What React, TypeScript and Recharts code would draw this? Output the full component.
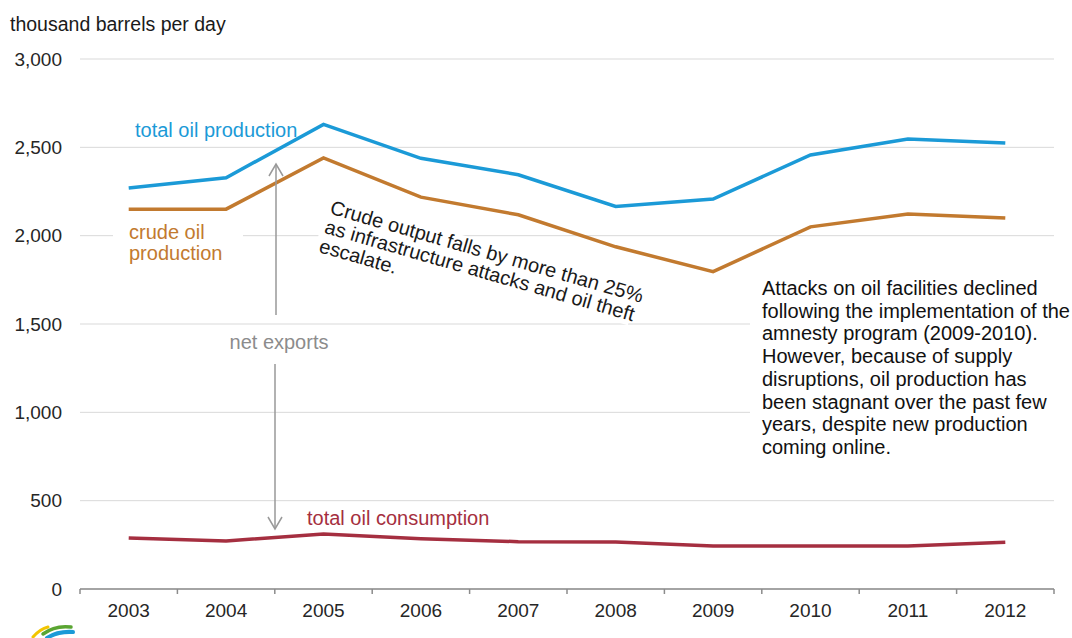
import React from 'react';
import { LineChart, Line, XAxis, YAxis, CartesianGrid } from 'recharts';

const years = [2003, 2004, 2005, 2006, 2007, 2008, 2009, 2010, 2011, 2012];
const totalProduction = [2270, 2328, 2630, 2438, 2345, 2165, 2207, 2457, 2547, 2524];
const crudeProduction = [2150, 2150, 2440, 2218, 2118, 1937, 1796, 2050, 2123, 2100];
const totalConsumption = [289, 272, 311, 284, 268, 266, 243, 243, 243, 264];
const yTicks = [0, 500, 1000, 1500, 2000, 2500, 3000];

const rightNote = [
  'Attacks on oil facilities declined',
  'following the implementation of the',
  'amnesty program (2009-2010).',
  'However, because of supply',
  'disruptions, oil production has',
  'been stagnant over the past few',
  'years, despite new production',
  'coming online.',
];
const crudeNote = ['Crude output falls by more than 25%', 'as infrastructure attacks and oil theft', 'escalate.'];
const crudeNoteWidths = [330, 322, 84];

const data = years.map((year, i) => ({
  year,
  total: totalProduction[i],
  crude: crudeProduction[i],
  consumption: totalConsumption[i],
}));

// tick marks sit between the years, labels on the years
const xTicks = [...years.flatMap((y) => [y - 0.5, y]), years[years.length - 1] + 0.5];

const FONT = '"Liberation Sans", Arial, sans-serif';
const BLUE = '#1b9ad7';
const ORANGE = '#c27a2f';
const RED = '#a52f40';

const YearTick = (props: any) => {
  const { x, y, payload } = props;
  const v = payload.value;
  if (Number.isInteger(v)) {
    return (
      <text x={x} y={y + 28} textAnchor="middle" fill="#262626" fontSize={19} fontFamily={FONT}>
        {v}
      </text>
    );
  }
  return <line x1={x} x2={x} y1={y} y2={y + 5} stroke="#8c8c8c" strokeWidth={1.5} />;
};

export default function App() {
  return (
    <div style={{ position: 'absolute', left: 0, top: 0, width: 1072, height: 638, background: '#fff', fontFamily: FONT, overflow: 'hidden' }}>
      <LineChart width={1072} height={638} data={data} margin={{ top: 59, right: 18, bottom: 0, left: 10 }}>
        <CartesianGrid vertical={false} stroke="#d9d9d9" strokeWidth={1} />
        <XAxis
          dataKey="year"
          type="number"
          domain={[2002.5, 2012.5]}
          ticks={xTicks}
          interval={0}
          height={49}
          tickSize={0}
          tickMargin={0}
          tickLine={false}
          stroke="#8c8c8c"
          strokeWidth={1.5}
          tick={<YearTick />}
        />
        <YAxis
          width={70}
          domain={[0, 3000]}
          ticks={yTicks}
          axisLine={false}
          tickLine={false}
          tickSize={0}
          tickMargin={18}
          tick={{ fill: '#262626', fontSize: 19, fontFamily: FONT }}
          tickFormatter={(v) => v.toLocaleString('en-US')}
        />
        <Line type="linear" dataKey="total" stroke={BLUE} strokeWidth={3.5} dot={false} isAnimationActive={false} />
        <Line type="linear" dataKey="crude" stroke={ORANGE} strokeWidth={3.5} dot={false} isAnimationActive={false} />
        <Line type="linear" dataKey="consumption" stroke={RED} strokeWidth={3.5} dot={false} isAnimationActive={false} />
      </LineChart>

      <svg width={1072} height={638} style={{ position: 'absolute', left: 0, top: 0, pointerEvents: 'none' }} fontFamily={FONT}>
        <text x={10} y={31} fontSize={19.5} fill="#1a1a1a">thousand barrels per day</text>

        <text x={135} y={137} fontSize={20} fill={BLUE}>total oil production</text>

        <rect x={113} y={222} width={130} height={44} fill="#fff" />
        <text x={129} y={239} fontSize={20} fill={ORANGE}>crude oil</text>
        <text x={129} y={260} fontSize={20} fill={ORANGE}>production</text>

        {/* net exports arrow */}
        <g stroke="#999" strokeWidth={1.5} fill="none">
          <line x1={276} y1={164} x2={276} y2={315} />
          <polyline points="269,176 276,164 283,176" />
          <line x1={275} y1={364} x2={275} y2={529} />
          <polyline points="268,517 275,529 282,517" />
        </g>
        <text x={279} y={349} fontSize={20} textAnchor="middle" fill="#8c8c8c">net exports</text>

        <text x={307} y={525} fontSize={20} fill={RED}>total oil consumption</text>

        <g transform="translate(329,213.5) rotate(16)">
          {crudeNote.map((t, i) => (
            <rect key={'bg' + t} x={-4} y={i * 20 - 16} width={crudeNoteWidths[i]} height={21} fill="#fff" />
          ))}
          {crudeNote.map((t, i) => (
            <text key={t} x={0} y={i * 20} fontSize={20} fill="#1a1a1a">{t}</text>
          ))}
        </g>

        <rect x={750} y={268} width={322} height={188} fill="#fff" />
        {rightNote.map((t, i) => (
          <text key={t} x={762} y={295 + i * 22.7} fontSize={20} fill="#111">{t}</text>
        ))}

        {/* logo peeking in at the bottom */}
        <g fill="none" strokeLinecap="round">
          <path d="M33 637 Q40 629 48 627" stroke="#f2c500" strokeWidth={3} />
          <path d="M43 634 Q55 625 71 627" stroke="#5aa532" strokeWidth={3.5} />
          <path d="M47 638 Q58 631 73 632" stroke="#1b9ad7" strokeWidth={4} />
        </g>
      </svg>
    </div>
  );
}
